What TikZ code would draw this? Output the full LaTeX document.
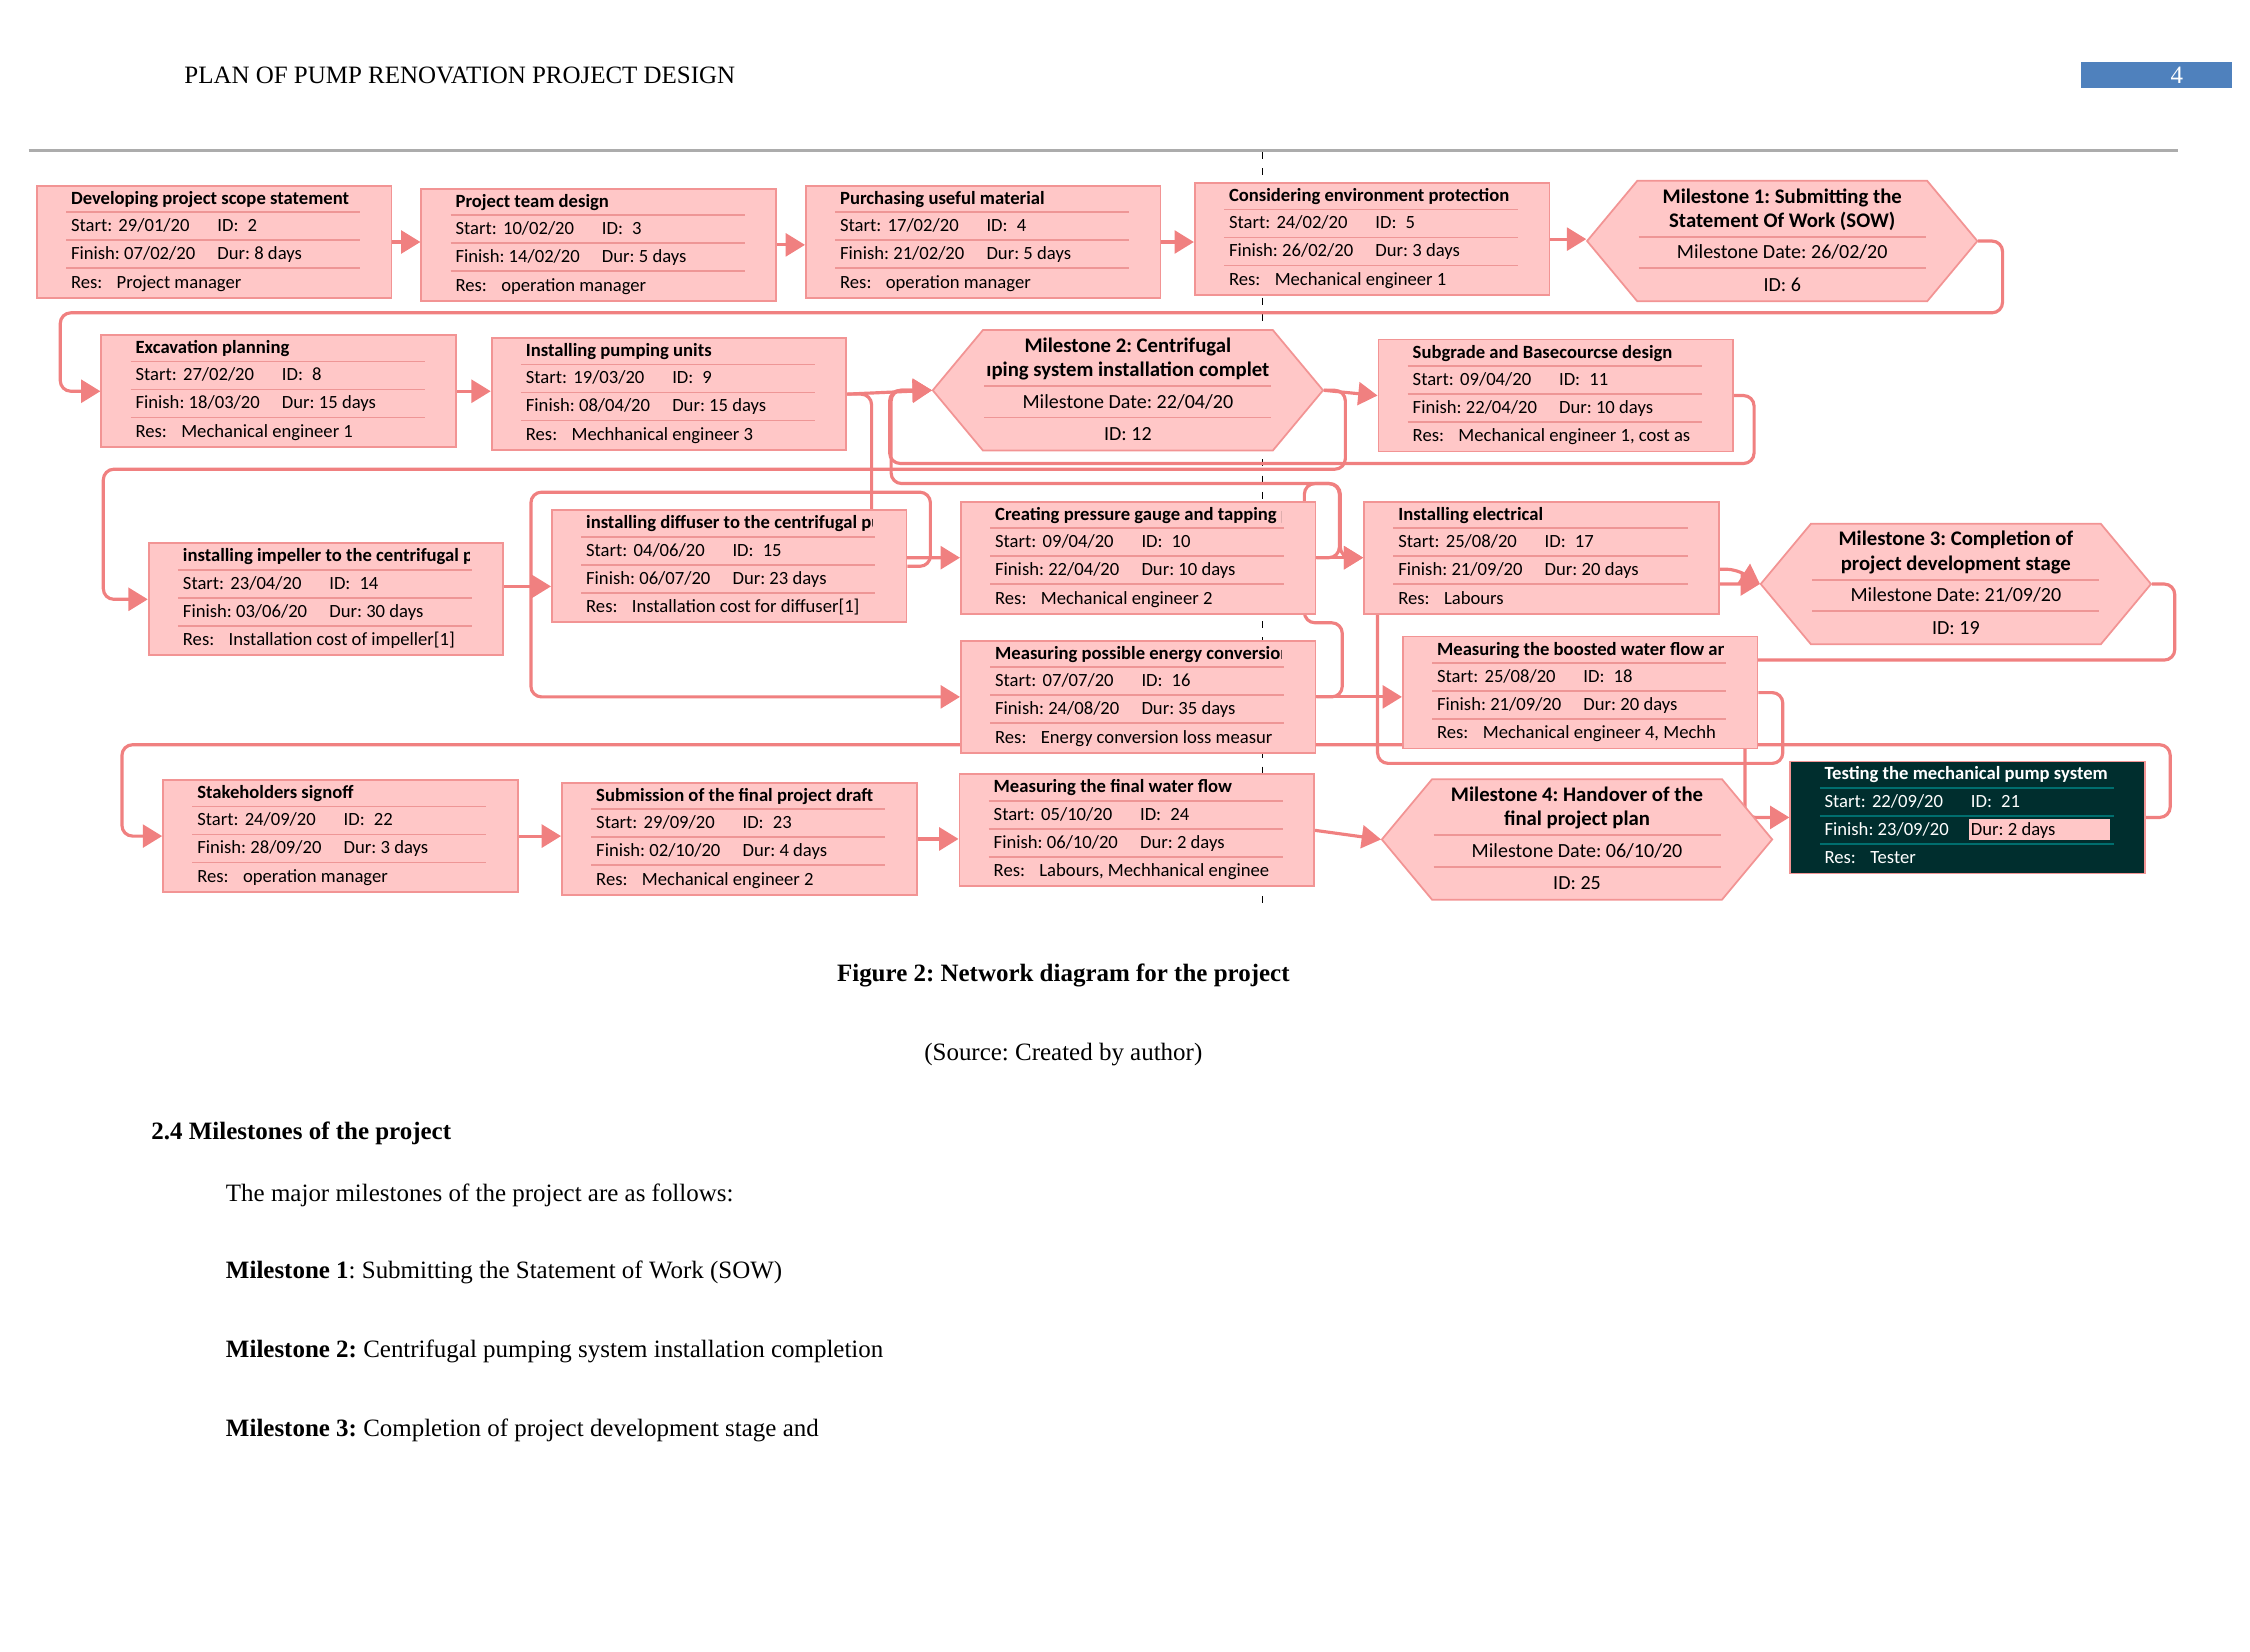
\documentclass[tikz,border=0pt]{standalone}
\usepackage{fontspec}
\setmainfont{Liberation Serif}
\newfontfamily\calibri{Carlito}
\usetikzlibrary{arrows.meta,backgrounds}

\definecolor{boxfill}{RGB}{255,199,199}
\definecolor{boxline}{RGB}{242,148,148}
\definecolor{sepcol}{RGB}{238,150,150}
\definecolor{linkcol}{RGB}{240,128,128}
\definecolor{darkfill}{RGB}{0,46,46}
\definecolor{darksep}{RGB}{0,110,110}
\definecolor{pageblue}{RGB}{79,129,189}

\begin{document}
\frenchspacing
\begin{tikzpicture}[x=0.01435cm,y=-0.01435cm,
  taskbox/.style={draw=boxline,fill=boxfill,line width=0.5pt,anchor=north west,minimum width=3.545cm,minimum height=1.12cm,inner sep=0},
  darkbox/.style={taskbox,fill=darkfill},
  sepline/.style={draw=sepcol,line width=0.5pt},
  tasktext/.style={anchor=base west,inner sep=0,font=\calibri\fontsize{5.3}{6}\selectfont},
  tasktitle/.style={tasktext,font=\calibri\bfseries\fontsize{5.3}{6}\selectfont},
  mstone/.style={draw=boxline,fill=boxfill,line width=0.5pt},
  mstext/.style={anchor=base,inner sep=0,font=\calibri\fontsize{5.7}{6.5}\selectfont},
  mstitle/.style={mstext,font=\calibri\bfseries\fontsize{5.9}{7}\selectfont},
  link/.style={draw=linkcol,line width=0.9pt,rounded corners=3pt},
  arr/.style={link,-{Triangle[length=5.5pt,width=6.5pt]}},
  pagetext/.style={anchor=base west,inner sep=0,font=\fontsize{7.1}{8.5}\selectfont},
  pagebold/.style={pagetext,font=\bfseries\fontsize{7.1}{8.5}\selectfont}]
  \useasboundingbox (0,0) rectangle (1568,1151);

  % page head
  \node[pagetext] (head) at (128,58) {PLAN OF PUMP RENOVATION PROJECT DESIGN};
  \node[fill=pageblue,anchor=north west,minimum width=1.507cm,minimum height=0.258cm,inner sep=0] (pagebox) at (1450,43) {};
  \node[pagetext,anchor=base,text=white] (pagenum) at (1517,58) {4};
  \draw[gray!65,line width=0.7pt] (20,105) -- (1518,105);

  % task boxes
  \foreach \n/\x/\y/\ti/\sd/\fd/\du/\re in {
    2/25/129/{Developing project scope statement}/{29/01/20}/{07/02/20}/{8 days}/{Project manager},
    3/293/131/{Project team design}/{10/02/20}/{14/02/20}/{5 days}/{operation manager},
    4/561/129/{Purchasing useful material}/{17/02/20}/{21/02/20}/{5 days}/{operation manager},
    5/832/127/{Considering environment protection}/{24/02/20}/{26/02/20}/{3 days}/{Mechanical engineer 1},
    8/70/233/{Excavation planning}/{27/02/20}/{18/03/20}/{15 days}/{Mechanical engineer 1},
    9/342/235/{Installing pumping units}/{19/03/20}/{08/04/20}/{15 days}/{Mechhanical engineer 3},
    11/960/236/{Subgrade and Basecourcse design}/{09/04/20}/{22/04/20}/{10 days}/{Mechanical engineer 1, cost as},
    14/103/378/{installing impeller to the centrifugal p}/{23/04/20}/{03/06/20}/{30 days}/{Installation cost of impeller[1]},
    15/384/355/{installing diffuser to the centrifugal pu}/{04/06/20}/{06/07/20}/{23 days}/{Installation cost for diffuser[1]},
    10/669/349/{Creating pressure gauge and tapping p}/{09/04/20}/{22/04/20}/{10 days}/{Mechanical engineer 2},
    16/669/446/{Measuring possible energy conversion}/{07/07/20}/{24/08/20}/{35 days}/{Energy conversion loss measur},
    17/950/349/{Installing electrical}/{25/08/20}/{21/09/20}/{20 days}/{Labours},
    18/977/443/{Measuring the boosted water flow an}/{25/08/20}/{21/09/20}/{20 days}/{Mechanical engineer 4, Mechh},
    22/113/543/{Stakeholders signoff}/{24/09/20}/{28/09/20}/{3 days}/{operation manager},
    23/391/545/{Submission of the final project draft}/{29/09/20}/{02/10/20}/{4 days}/{Mechanical engineer 2},
    24/668/539/{Measuring the final water flow}/{05/10/20}/{06/10/20}/{2 days}/{Labours, Mechhanical enginee}} {
    \node[taskbox] (t\n) at (\x,\y) {};
    \foreach \dy in {19,38.5,58}
      \draw[sepline] (\x+21,\y+\dy) -- (\x+226,\y+\dy);
    \begin{scope}
      \clip (\x,\y) rectangle (\x+224,\y+78);
      \node[tasktitle] (t\n-ti) at (\x+24,\y+13.5) {\ti};
      \node[tasktext] (t\n-re) at (\x+24,\y+72) {\makebox[13pt][l]{Res:}\re};
    \end{scope}
    \node[tasktext] (t\n-st) at (\x+24,\y+32.5) {\makebox[13.5pt][l]{Start:}\sd};
    \node[tasktext] (t\n-id) at (\x+126,\y+32.5) {\makebox[8.6pt][l]{ID:}\n};
    \node[tasktext] (t\n-fi) at (\x+24,\y+52) {Finish: \fd};
    \node[tasktext] (t\n-du) at (\x+126,\y+52) {Dur: \du};
  }

  % the one task box in dark
  \node[darkbox] (t21) at (1247,530) {};
  \foreach \dy in {19,38.5,58}
    \draw[sepline,draw=darksep] (1268,530+\dy) -- (1473,530+\dy);
  \node[fill=boxfill,anchor=north west,minimum width=1.406cm,minimum height=0.215cm,inner sep=0] (t21-hl) at (1372,570) {};
  \node[tasktitle,text=white] (t21-ti) at (1271,543.5) {Testing the mechanical pump system};
  \node[tasktext,text=white] (t21-st) at (1271,562.5) {\makebox[13.5pt][l]{Start:}22/09/20};
  \node[tasktext,text=white] (t21-id) at (1373,562.5) {\makebox[8.6pt][l]{ID:}21};
  \node[tasktext,text=white] (t21-fi) at (1271,582) {Finish: 23/09/20};
  \node[tasktext] (t21-du) at (1373,582) {Dur: 2 days};
  \node[tasktext,text=white] (t21-re) at (1271,602) {\makebox[13pt][l]{Res:}Tester};

  % milestones
  \foreach \n/\x/\y/\la/\lb/\da in {
    6/1106/168/{Milestone 1: Submitting the}/{Statement Of Work (SOW)}/{26/02/20},
    12/650/272/{Milestone 2: Centrifugal}/{ıping system installation complet}/{22/04/20},
    19/1227/407/{Milestone 3: Completion of}/{project development stage}/{21/09/20},
    25/963/585/{Milestone 4: Handover of the}/{final project plan}/{06/10/20}} {
    \draw[mstone] (\x,\y) -- (\x+35,\y-42) -- (\x+237,\y-42) -- (\x+272,\y)
      -- (\x+237,\y+42) -- (\x+35,\y+42) -- cycle;
    \node[inner sep=0,minimum width=3.903cm,minimum height=1.205cm] (m\n) at (\x+136,\y) {};
    \draw[sepline] (\x+36,\y-3) -- (\x+236,\y-3);
    \draw[sepline] (\x+36,\y+19) -- (\x+236,\y+19);
    \node[mstitle] (m\n-a) at (\x+136,\y-26.5) {\la};
    \node[mstitle] (m\n-b) at (\x+136,\y-9.5) {\lb};
    \node[mstext] (m\n-d) at (\x+136,\y+12.5) {Milestone Date: \da};
    \node[mstext] (m\n-i) at (\x+136,\y+35) {ID: \n};
  }

  \path (t14.east) ++(0,-9) coordinate (c14);
  \path (t17.east) ++(0,8) coordinate (c17);

  \begin{pgfonlayer}{background}
    \draw[dash pattern=on 2pt off 2.6pt,line width=0.4pt] (880,106) -- (880,630);
    % row 1
    \draw[arr] (t2.east) -- (t2.east -| t3.west);
    \draw[arr] (t3.east) -- (t3.east -| t4.west);
    \draw[arr] (t4.east) -- (t4.east -| t5.west);
    \draw[arr] (t5.east) -- (t5.east -| m6.west);
    \draw[arr] (m6.east) -- ++(17,0) |- (42,218) |- (t8.west);
    % row 2
    \draw[arr] (t8.east) -- (t8.east -| t9.west);
    \draw[arr] (t9.east) -- (m12.west);
    \draw[arr] (m12.east) -- (t11.west);
    \draw[arr] (t11.east) -- ++(14,0) |- (620,323) |- (m12.west);
    \draw[arr] (m12.east) -- ++(15,0) |- (72,327) |- (t14.west);
    \draw[arr] (t10.east) -- ++(16,0) |- (621,337) |- (m12.west);
    \draw[arr] (t9.east) -- ++(17,0) |- (t10.west);
    % row 3
    \draw[arr] (c14) -- (c14 -| t15.west);
    \draw[arr] (t15.east) -- ++(16,0) |- (370,343) |- (t16.west);
    \draw[arr] (t10.east) -- (t17.west);
    \draw[arr] (t16.east) -- (t16.east -| t18.west);
    \draw[arr] (t16.east) -- ++(18,0) |- (909,434) |- (934,337) |- (t17.west);
    \draw[arr] (c17) -- ++(12,0) -- (m19.west);
    \draw[arr] (t18.east) -- ++(17,0) |- (960,532) |- (m19.west);
    \draw[arr] (m19.east) -- ++(16,0) |- (1216,460) |- (t21.west);
    % row 4
    \draw[arr] (t21.east) -- ++(17,0) |- (85,519) |- (t22.west);
    \draw[arr] (t22.east) -- (t22.east -| t23.west);
    \draw[arr] (t23.east) -- (t23.east -| t24.west);
    \draw[arr] (t24.east) -- (m25.west);
  \end{pgfonlayer}

  % page text
  \node[pagebold,anchor=base] (caption) at (741,684) {Figure 2: Network diagram for the project};
  \node[pagetext,anchor=base] (source) at (741,739) {(Source: Created by author)};
  \node[pagebold] (section) at (105,794) {2.4 Milestones of the project};
  \node[pagetext] (intro) at (157,837) {The major milestones of the project are as follows:};
  \node[pagetext] (ms1) at (157,891) {\textbf{Milestone 1}: Submitting the Statement of Work (SOW)};
  \node[pagetext] (ms2) at (157,946) {\textbf{Milestone 2:} Centrifugal pumping system installation completion};
  \node[pagetext] (ms3) at (157,1001) {\textbf{Milestone 3:} Completion of project development stage and};
\end{tikzpicture}
\end{document}
